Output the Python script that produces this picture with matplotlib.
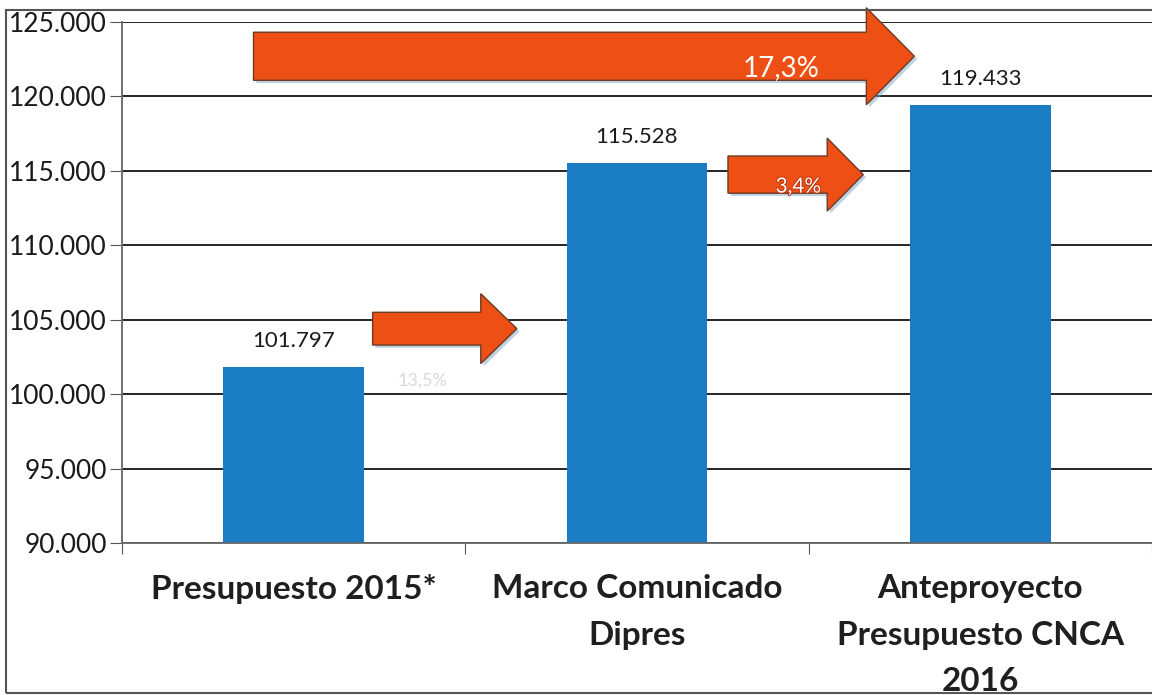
import matplotlib.pyplot as plt
import matplotlib.patheffects as pe
from matplotlib.patches import FancyArrow, Rectangle
from matplotlib.ticker import FuncFormatter

categories = ['Presupuesto 2015*', 'Marco Comunicado\nDipres', 'Anteproyecto\nPresupuesto CNCA\n2016']
values = [101797, 115528, 119433]
y_ticks = [90000, 95000, 100000, 105000, 110000, 115000, 120000, 125000]

# arrows: (from bar, to bar)
changes = [(0, 1), (1, 2), (0, 2)]

def fmt_miles(v, pos=None):
    return f'{v:,.0f}'.replace(',', '.')

def fmt_pct(a, b):
    return f'{(b / a - 1) * 100:.1f}%'.replace('.', ',')

plt.rcParams['font.family'] = ['Lato', 'DejaVu Sans']

fig = plt.figure(figsize=(11.52, 6.95), dpi=100)
ax = fig.add_axes([0.1059, 0.2187, 0.8941, 0.7496])

x = list(range(len(categories)))
ax.bar(x, values, width=0.41, color='#1a7dc3', zorder=2)
ax.set_xlim(-0.5, 2.5)
ax.set_ylim(90000, 125000)
ax.set_yticks(y_ticks)
ax.yaxis.set_major_formatter(FuncFormatter(fmt_miles))
ax.yaxis.grid(True, color='black', lw=1.2, zorder=1)
ax.set_axisbelow(True)

ax.set_xticks([-0.5, 0.5, 1.5, 2.5])
ax.set_xticklabels([])
ax.tick_params(axis='x', direction='out', length=8, color='#555555')
ax.tick_params(axis='y', direction='out', length=9, color='#555555', labelsize=19, pad=2,
               labelcolor='#1a1a1a')
for s in ['top', 'right']:
    ax.spines[s].set_visible(False)
ax.spines['left'].set_color('#666666')
ax.spines['bottom'].set_color('#666666')
ax.spines['left'].set_linewidth(1.3)
ax.spines['bottom'].set_linewidth(1.3)

for xi, v in zip(x, values):
    ax.text(xi, v + 1100, fmt_miles(v), ha='center', va='bottom', fontsize=16, color='#1a1a1a')

for xi, lab in zip(x, categories):
    ax.text(xi, 87900, lab, ha='center', va='top', fontsize=24, fontweight='bold',
            color='#1f1f1f', linespacing=1.72)

# arrows (geometry in data units)
arrow_geom = {
    (0, 1): dict(x0=0.23, y=104400, dx=0.42, w=2200, hw=4700, hl=0.105),
    (1, 2): dict(x0=1.265, y=114750, dx=0.394, w=2500, hw=4900, hl=0.105),
    (0, 2): dict(x0=-0.117, y=122700, dx=1.925, w=3230, hw=6520, hl=0.14),
}
shadow = [pe.withSimplePatchShadow(offset=(2, -2), shadow_rgbFace='#7fa6c8', alpha=0.5)]
for a, b in changes:
    g = arrow_geom[(a, b)]
    arr = FancyArrow(g['x0'], g['y'], g['dx'], 0, width=g['w'], head_width=g['hw'],
                     head_length=g['hl'], length_includes_head=True,
                     fc='#ee4f14', ec='#6b3b25', lw=1.0, zorder=4, clip_on=False)
    arr.set_path_effects(shadow)
    ax.add_patch(arr)

ax.text(1.42, 121900, fmt_pct(values[0], values[2]), ha='center', va='center',
        fontsize=20, color='white', zorder=5)
ax.text(1.47, 113950, fmt_pct(values[1], values[2]), ha='center', va='center',
        fontsize=15, color='white', zorder=5,
        path_effects=[pe.withStroke(linewidth=1.5, foreground='#c03a10')])
ax.text(0.375, 100900, fmt_pct(values[0], values[1]), ha='center', va='center',
        fontsize=13, color='#d9d9d9', zorder=5)

# outer frame
fig.patches.append(Rectangle((0.0052, 0.003), 1.1, 0.9826, transform=fig.transFigure,
                             fill=False, ec='#555555', lw=1.5))

fig.savefig('out.png', dpi=100)
